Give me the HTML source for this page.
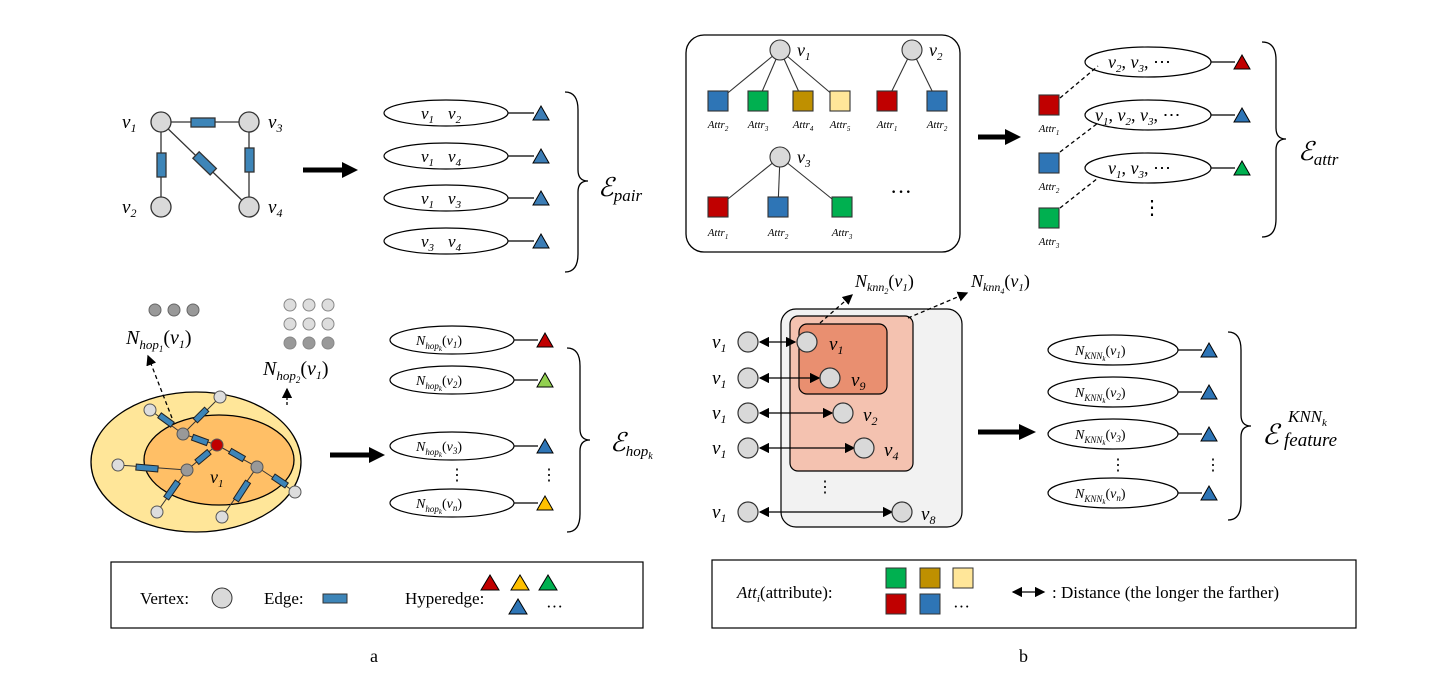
<!DOCTYPE html>
<html><head><meta charset="utf-8"><style>body{margin:0;background:#fff}svg{display:block}
.m{font-family:"Liberation Serif",serif;font-style:italic}
.t{font-family:"Liberation Serif",serif}
</style></head><body>
<svg width="1441" height="683" viewBox="0 0 1441 683" xmlns="http://www.w3.org/2000/svg">
<defs>
<marker id="ah" markerWidth="8" markerHeight="8" refX="7" refY="4" orient="auto"><path d="M0,0 L8,4 L0,8 z" fill="#000"/></marker>
<marker id="ahs" markerWidth="8" markerHeight="8" refX="1" refY="4" orient="auto"><path d="M8,0 L0,4 L8,8 z" fill="#000"/></marker>
</defs>
<g stroke="#333" stroke-width="1.3">
<line x1="161" y1="122" x2="249" y2="122"/><line x1="161" y1="122" x2="161" y2="207"/><line x1="161" y1="122" x2="249" y2="207"/><line x1="249" y1="122" x2="249" y2="207"/>
<rect x="191" y="118" width="24" height="9" fill="#3d85b8"/>
<rect x="157" y="153" width="9" height="24" fill="#3d85b8"/>
<rect x="245" y="148" width="9" height="24" fill="#3d85b8"/>
<rect x="193" y="159" width="24" height="9" fill="#3d85b8" transform="rotate(44 205 163)"/>
<circle cx="161" cy="122" r="10" fill="#d9d9d9"/><circle cx="249" cy="122" r="10" fill="#d9d9d9"/><circle cx="161" cy="207" r="10" fill="#d9d9d9"/><circle cx="249" cy="207" r="10" fill="#d9d9d9"/>
</g>
<g class="m" font-size="19">
<text x="122" y="128">v<tspan font-size="12" dy="4">1</tspan></text>
<text x="268" y="128">v<tspan font-size="12" dy="4">3</tspan></text>
<text x="122" y="213">v<tspan font-size="12" dy="4">2</tspan></text>
<text x="268" y="213">v<tspan font-size="12" dy="4">4</tspan></text>
</g>
<line x1="303" y1="170" x2="345" y2="170" stroke="#000" stroke-width="5"/><path d="M342,162 L358,170 L342,178z"/>
<g stroke="#000" stroke-width="1.2" fill="none">
<ellipse cx="446" cy="113" rx="62" ry="13"/><ellipse cx="446" cy="156" rx="62" ry="13"/><ellipse cx="446" cy="198" rx="62" ry="13"/><ellipse cx="446" cy="241" rx="62" ry="13"/>
<line x1="508" y1="113" x2="534" y2="113"/><line x1="508" y1="156" x2="534" y2="156"/><line x1="508" y1="198" x2="534" y2="198"/><line x1="508" y1="241" x2="534" y2="241"/>
</g>
<g fill="#3c7db5" stroke="#000"><path d="M533,120 L541,106 L549,120z"/><path d="M533,163 L541,149 L549,163z"/><path d="M533,205 L541,191 L549,205z"/><path d="M533,248 L541,234 L549,248z"/></g>
<g class="m" font-size="17">
<text x="421" y="119">v<tspan font-size="11" dy="4">1</tspan><tspan dy="-4" dx="14">v</tspan><tspan font-size="11" dy="4">2</tspan></text>
<text x="421" y="162">v<tspan font-size="11" dy="4">1</tspan><tspan dy="-4" dx="14">v</tspan><tspan font-size="11" dy="4">4</tspan></text>
<text x="421" y="204">v<tspan font-size="11" dy="4">1</tspan><tspan dy="-4" dx="14">v</tspan><tspan font-size="11" dy="4">3</tspan></text>
<text x="421" y="247">v<tspan font-size="11" dy="4">3</tspan><tspan dy="-4" dx="14">v</tspan><tspan font-size="11" dy="4">4</tspan></text>
</g>
<path d="M565,92 Q578,92 578,110 L578,170 Q578,181 588,181 Q578,181 578,192 L578,254 Q578,272 565,272" fill="none" stroke="#000" stroke-width="1.3"/>
<text x="598" y="196" class="m" font-size="26">ℰ<tspan font-size="17" dy="5">pair</tspan></text>

<ellipse cx="196" cy="462" rx="105" ry="70" fill="#ffe699" stroke="#000" stroke-width="1.3"/>
<ellipse cx="219" cy="460" rx="75" ry="45" fill="#ffbf66" stroke="#000" stroke-width="1.3"/>
<g stroke="#333" stroke-width="1">
<line x1="150" y1="410" x2="183" y2="434"/><line x1="220" y1="397" x2="183" y2="434"/><line x1="183" y1="434" x2="217" y2="445"/><line x1="217" y1="445" x2="187" y2="470"/><line x1="217" y1="445" x2="257" y2="467"/>
<line x1="118" y1="465" x2="187" y2="470"/><line x1="187" y1="470" x2="157" y2="512"/><line x1="257" y1="467" x2="222" y2="517"/><line x1="257" y1="467" x2="295" y2="492"/>
</g>
<g fill="#3d85b8" stroke="#222" stroke-width="1">
<rect x="158" y="417" width="16" height="6" transform="rotate(36 166 420)"/>
<rect x="193" y="412" width="16" height="6" transform="rotate(-45 201 415)"/>
<rect x="192" y="437" width="16" height="6" transform="rotate(20 200 440)"/>
<rect x="195" y="454" width="16" height="6" transform="rotate(-40 203 457)"/>
<rect x="229" y="452" width="16" height="6" transform="rotate(30 237 455)"/>
<rect x="136" y="465" width="22" height="6" transform="rotate(5 147 468)"/>
<rect x="162" y="487" width="20" height="6" transform="rotate(-55 172 490)"/>
<rect x="231" y="488" width="22" height="6" transform="rotate(-57 242 491)"/>
<rect x="272" y="478" width="16" height="6" transform="rotate(34 280 481)"/>
</g>
<g stroke="#555" stroke-width="1">
<circle cx="150" cy="410" r="6" fill="#ddd"/><circle cx="220" cy="397" r="6" fill="#ddd"/><circle cx="118" cy="465" r="6" fill="#ddd"/><circle cx="157" cy="512" r="6" fill="#ddd"/><circle cx="222" cy="517" r="6" fill="#ddd"/><circle cx="295" cy="492" r="6" fill="#ddd"/>
<circle cx="183" cy="434" r="6" fill="#999"/><circle cx="187" cy="470" r="6" fill="#999"/><circle cx="257" cy="467" r="6" fill="#999"/>
<circle cx="217" cy="445" r="6" fill="#c00000"/>
</g>
<text x="210" y="483" class="m" font-size="18">v<tspan font-size="11" dy="4">1</tspan></text>
<g fill="#999" stroke="#666"><circle cx="155" cy="310" r="6"/><circle cx="174" cy="310" r="6"/><circle cx="193" cy="310" r="6"/></g>
<g stroke="#888"><g fill="#ddd"><circle cx="290" cy="305" r="6"/><circle cx="309" cy="305" r="6"/><circle cx="328" cy="305" r="6"/><circle cx="290" cy="324" r="6"/><circle cx="309" cy="324" r="6"/><circle cx="328" cy="324" r="6"/></g><g fill="#999"><circle cx="290" cy="343" r="6"/><circle cx="309" cy="343" r="6"/><circle cx="328" cy="343" r="6"/></g></g>
<text x="126" y="344" class="m" font-size="20">N<tspan font-size="13" dy="5">hop</tspan><tspan font-size="9" dy="3">1</tspan><tspan dy="-8" font-style="normal">(</tspan>v<tspan font-size="12" dy="4">1</tspan><tspan dy="-4" font-style="normal">)</tspan></text>
<text x="263" y="375" class="m" font-size="20">N<tspan font-size="13" dy="5">hop</tspan><tspan font-size="9" dy="3">2</tspan><tspan dy="-8" font-style="normal">(</tspan>v<tspan font-size="12" dy="4">1</tspan><tspan dy="-4" font-style="normal">)</tspan></text>
<line x1="172" y1="418" x2="148" y2="356" stroke="#000" stroke-width="1.3" stroke-dasharray="4,3" marker-end="url(#ah)"/>
<line x1="287" y1="405" x2="287" y2="389" stroke="#000" stroke-width="1.3" stroke-dasharray="3,2" marker-end="url(#ah)"/>
<line x1="330" y1="455" x2="372" y2="455" stroke="#000" stroke-width="5"/><path d="M369,447 L385,455 L369,463z"/>
<g stroke="#000" stroke-width="1.2" fill="none">
<ellipse cx="452" cy="340" rx="62" ry="14"/><ellipse cx="452" cy="380" rx="62" ry="14"/><ellipse cx="452" cy="446" rx="62" ry="14"/><ellipse cx="452" cy="503" rx="62" ry="14"/>
<line x1="514" y1="340" x2="538" y2="340"/><line x1="514" y1="380" x2="538" y2="380"/><line x1="514" y1="446" x2="538" y2="446"/><line x1="514" y1="503" x2="538" y2="503"/>
</g>
<g stroke="#000"><path d="M537,347 L545,333 L553,347z" fill="#c00000"/><path d="M537,387 L545,373 L553,387z" fill="#92d050"/><path d="M537,453 L545,439 L553,453z" fill="#2e75b6"/><path d="M537,510 L545,496 L553,510z" fill="#ffc000"/></g>
<g class="m" font-size="14">
<text x="416" y="345">N<tspan font-size="9" dy="4">hop</tspan><tspan font-size="7" dy="2">k</tspan><tspan dy="-6" font-style="normal">(</tspan>v<tspan font-size="9" dy="3">1</tspan><tspan dy="-3" font-style="normal">)</tspan></text>
<text x="416" y="385">N<tspan font-size="9" dy="4">hop</tspan><tspan font-size="7" dy="2">k</tspan><tspan dy="-6" font-style="normal">(</tspan>v<tspan font-size="9" dy="3">2</tspan><tspan dy="-3" font-style="normal">)</tspan></text>
<text x="416" y="451">N<tspan font-size="9" dy="4">hop</tspan><tspan font-size="7" dy="2">k</tspan><tspan dy="-6" font-style="normal">(</tspan>v<tspan font-size="9" dy="3">3</tspan><tspan dy="-3" font-style="normal">)</tspan></text>
<text x="416" y="508">N<tspan font-size="9" dy="4">hop</tspan><tspan font-size="7" dy="2">k</tspan><tspan dy="-6" font-style="normal">(</tspan>v<tspan font-size="9" dy="3">n</tspan><tspan dy="-3" font-style="normal">)</tspan></text>
</g>
<text x="449" y="480" class="t" font-size="16">⋮</text><text x="541" y="480" class="t" font-size="16">⋮</text>
<path d="M567,348 Q580,348 580,366 L580,429 Q580,440 590,440 Q580,440 580,451 L580,514 Q580,532 567,532" fill="none" stroke="#000" stroke-width="1.3"/>
<text x="610" y="451" class="m" font-size="26">ℰ<tspan font-size="15" dy="5">hop</tspan><tspan font-size="10" dy="3">k</tspan></text>

<rect x="111" y="562" width="532" height="66" fill="none" stroke="#000" stroke-width="1.2"/>
<g class="t" font-size="17"><text x="140" y="604">Vertex:</text><text x="264" y="604">Edge:</text><text x="405" y="604">Hyperedge:</text><text x="546" y="612">···</text></g>
<circle cx="222" cy="598" r="10" fill="#d9d9d9" stroke="#333"/>
<rect x="323" y="594" width="24" height="9" fill="#3d85b8" stroke="#333"/>
<g stroke="#000"><path d="M481,590 L490,575 L499,590z" fill="#c00000"/><path d="M511,590 L520,575 L529,590z" fill="#ffc000"/><path d="M539,590 L548,575 L557,590z" fill="#00b050"/><path d="M509,614 L518,599 L527,614z" fill="#2e75b6"/></g>
<text x="370" y="662" class="t" font-size="18">a</text>
<text x="1019" y="662" class="t" font-size="18">b</text>

<rect x="686" y="35" width="274" height="217" rx="18" fill="none" stroke="#000" stroke-width="1.3"/>
<g stroke="#333" stroke-width="1.1">
<line x1="780" y1="50" x2="718" y2="101"/><line x1="780" y1="50" x2="758" y2="101"/><line x1="780" y1="50" x2="803" y2="101"/><line x1="780" y1="50" x2="840" y2="101"/>
<line x1="912" y1="50" x2="887" y2="101"/><line x1="912" y1="50" x2="937" y2="101"/>
<line x1="780" y1="157" x2="718" y2="207"/><line x1="780" y1="157" x2="778" y2="207"/><line x1="780" y1="157" x2="842" y2="207"/>
<circle cx="780" cy="50" r="10" fill="#d9d9d9"/><circle cx="912" cy="50" r="10" fill="#d9d9d9"/><circle cx="780" cy="157" r="10" fill="#d9d9d9"/>
<rect x="708" y="91" width="20" height="20" fill="#2e75b6"/><rect x="748" y="91" width="20" height="20" fill="#00b050"/><rect x="793" y="91" width="20" height="20" fill="#bf9000"/><rect x="830" y="91" width="20" height="20" fill="#ffe699"/>
<rect x="877" y="91" width="20" height="20" fill="#c00000"/><rect x="927" y="91" width="20" height="20" fill="#2e75b6"/>
<rect x="708" y="197" width="20" height="20" fill="#c00000"/><rect x="768" y="197" width="20" height="20" fill="#2e75b6"/><rect x="832" y="197" width="20" height="20" fill="#00b050"/>
</g>
<g class="m" font-size="18"><text x="797" y="56">v<tspan font-size="11" dy="4">1</tspan></text><text x="929" y="56">v<tspan font-size="11" dy="4">2</tspan></text><text x="797" y="163">v<tspan font-size="11" dy="4">3</tspan></text></g>
<g class="m" font-size="11" text-anchor="middle">
<text x="718" y="128">Attr<tspan font-size="7" dy="3">2</tspan></text><text x="758" y="128">Attr<tspan font-size="7" dy="3">3</tspan></text><text x="803" y="128">Attr<tspan font-size="7" dy="3">4</tspan></text><text x="840" y="128">Attr<tspan font-size="7" dy="3">5</tspan></text><text x="887" y="128">Attr<tspan font-size="7" dy="3">1</tspan></text><text x="937" y="128">Attr<tspan font-size="7" dy="3">2</tspan></text>
<text x="718" y="236">Attr<tspan font-size="7" dy="3">1</tspan></text><text x="778" y="236">Attr<tspan font-size="7" dy="3">2</tspan></text><text x="842" y="236">Attr<tspan font-size="7" dy="3">3</tspan></text>
<text x="1049" y="132">Attr<tspan font-size="7" dy="3">1</tspan></text><text x="1049" y="190">Attr<tspan font-size="7" dy="3">2</tspan></text><text x="1049" y="245">Attr<tspan font-size="7" dy="3">3</tspan></text>
</g>
<text x="890" y="199" class="t" font-size="22">···</text>
<line x1="978" y1="137" x2="1008" y2="137" stroke="#000" stroke-width="5"/><path d="M1005,129 L1021,137 L1005,145z"/>
<g stroke="#333" stroke-width="1.1"><rect x="1039" y="95" width="20" height="20" fill="#c00000"/><rect x="1039" y="153" width="20" height="20" fill="#2e75b6"/><rect x="1039" y="208" width="20" height="20" fill="#00b050"/></g>
<g stroke="#000" stroke-width="1.3" stroke-dasharray="4,3"><line x1="1060" y1="98" x2="1098" y2="66"/><line x1="1060" y1="152" x2="1098" y2="123"/><line x1="1060" y1="208" x2="1098" y2="178"/></g>
<g stroke="#000" stroke-width="1.2" fill="none">
<ellipse cx="1148" cy="62" rx="63" ry="15"/><ellipse cx="1148" cy="115" rx="63" ry="15"/><ellipse cx="1148" cy="168" rx="63" ry="15"/>
<line x1="1211" y1="62" x2="1235" y2="62"/><line x1="1211" y1="115" x2="1235" y2="115"/><line x1="1211" y1="168" x2="1235" y2="168"/>
</g>
<g stroke="#000"><path d="M1234,69 L1242,55 L1250,69z" fill="#c00000"/><path d="M1234,122 L1242,108 L1250,122z" fill="#2e75b6"/><path d="M1234,175 L1242,161 L1250,175z" fill="#00b050"/></g>
<g class="m" font-size="18">
<text x="1108" y="68">v<tspan font-size="11" dy="4">2</tspan><tspan dy="-4" font-style="normal">, </tspan>v<tspan font-size="11" dy="4">3</tspan><tspan dy="-4" font-style="normal">, ⋯</tspan></text>
<text x="1095" y="121">v<tspan font-size="11" dy="4">1</tspan><tspan dy="-4" font-style="normal">, </tspan>v<tspan font-size="11" dy="4">2</tspan><tspan dy="-4" font-style="normal">, </tspan>v<tspan font-size="11" dy="4">3</tspan><tspan dy="-4" font-style="normal">, ⋯</tspan></text>
<text x="1108" y="174">v<tspan font-size="11" dy="4">1</tspan><tspan dy="-4" font-style="normal">, </tspan>v<tspan font-size="11" dy="4">3</tspan><tspan dy="-4" font-style="normal">, ⋯</tspan></text>
</g>
<text x="1142" y="214" class="t" font-size="20">⋮</text>
<path d="M1262,42 Q1276,42 1276,60 L1276,128 Q1276,139 1286,139 Q1276,139 1276,150 L1276,219 Q1276,237 1262,237" fill="none" stroke="#000" stroke-width="1.3"/>
<text x="1298" y="160" class="m" font-size="26">ℰ<tspan font-size="17" dy="5">attr</tspan></text>

<rect x="781" y="309" width="181" height="218" rx="15" fill="#f2f2f2" stroke="#000" stroke-width="1.2"/>
<rect x="790" y="316" width="123" height="155" rx="8" fill="#f4c2b0" stroke="#000" stroke-width="1.2"/>
<rect x="799" y="324" width="88" height="70" rx="8" fill="#e98f70" stroke="#000" stroke-width="1.2"/>
<g stroke="#000" stroke-width="1.3" marker-start="url(#ahs)" marker-end="url(#ah)">
<line x1="760" y1="342" x2="795" y2="342"/><line x1="760" y1="378" x2="819" y2="378"/><line x1="760" y1="413" x2="832" y2="413"/><line x1="760" y1="448" x2="854" y2="448"/><line x1="760" y1="512" x2="892" y2="512"/>
</g>
<g fill="#d9d9d9" stroke="#333" stroke-width="1.2">
<circle cx="748" cy="342" r="10"/><circle cx="748" cy="378" r="10"/><circle cx="748" cy="413" r="10"/><circle cx="748" cy="448" r="10"/><circle cx="748" cy="512" r="10"/>
<circle cx="807" cy="342" r="10"/><circle cx="830" cy="378" r="10"/><circle cx="843" cy="413" r="10"/><circle cx="864" cy="448" r="10"/><circle cx="902" cy="512" r="10"/>
</g>
<g class="m" font-size="19">
<text x="712" y="348">v<tspan font-size="12" dy="4">1</tspan></text><text x="712" y="384">v<tspan font-size="12" dy="4">1</tspan></text><text x="712" y="419">v<tspan font-size="12" dy="4">1</tspan></text><text x="712" y="454">v<tspan font-size="12" dy="4">1</tspan></text><text x="712" y="518">v<tspan font-size="12" dy="4">1</tspan></text>
<text x="829" y="350">v<tspan font-size="12" dy="4">1</tspan></text><text x="851" y="386">v<tspan font-size="12" dy="4">9</tspan></text><text x="863" y="421">v<tspan font-size="12" dy="4">2</tspan></text><text x="884" y="456">v<tspan font-size="12" dy="4">4</tspan></text><text x="921" y="520">v<tspan font-size="12" dy="4">8</tspan></text>
</g>
<text x="817" y="492" class="t" font-size="16">⋮</text>
<g stroke="#000" stroke-width="1.3" stroke-dasharray="4,3" marker-end="url(#ah)"><line x1="820" y1="323" x2="852" y2="295"/><line x1="908" y1="318" x2="967" y2="293"/></g>
<g class="m" font-size="18">
<text x="855" y="287">N<tspan font-size="12" dy="4">knn</tspan><tspan font-size="8" dy="3">2</tspan><tspan dy="-7" font-style="normal">(</tspan>v<tspan font-size="11" dy="4">1</tspan><tspan dy="-4" font-style="normal">)</tspan></text>
<text x="971" y="287">N<tspan font-size="12" dy="4">knn</tspan><tspan font-size="8" dy="3">4</tspan><tspan dy="-7" font-style="normal">(</tspan>v<tspan font-size="11" dy="4">1</tspan><tspan dy="-4" font-style="normal">)</tspan></text>
</g>
<line x1="978" y1="432" x2="1022" y2="432" stroke="#000" stroke-width="5"/><path d="M1019,424 L1036,432 L1019,440z"/>
<g stroke="#000" stroke-width="1.2" fill="none">
<ellipse cx="1113" cy="350" rx="65" ry="15"/><ellipse cx="1113" cy="392" rx="65" ry="15"/><ellipse cx="1113" cy="434" rx="65" ry="15"/><ellipse cx="1113" cy="493" rx="65" ry="15"/>
<line x1="1178" y1="350" x2="1202" y2="350"/><line x1="1178" y1="392" x2="1202" y2="392"/><line x1="1178" y1="434" x2="1202" y2="434"/><line x1="1178" y1="493" x2="1202" y2="493"/>
</g>
<g stroke="#000" fill="#2e75b6"><path d="M1201,357 L1209,343 L1217,357z"/><path d="M1201,399 L1209,385 L1217,399z"/><path d="M1201,441 L1209,427 L1217,441z"/><path d="M1201,500 L1209,486 L1217,500z"/></g>
<g class="m" font-size="14">
<text x="1075" y="355">N<tspan font-size="9" dy="4">KNN</tspan><tspan font-size="7" dy="2">k</tspan><tspan dy="-6" font-style="normal">(</tspan>v<tspan font-size="9" dy="3">1</tspan><tspan dy="-3" font-style="normal">)</tspan></text>
<text x="1075" y="397">N<tspan font-size="9" dy="4">KNN</tspan><tspan font-size="7" dy="2">k</tspan><tspan dy="-6" font-style="normal">(</tspan>v<tspan font-size="9" dy="3">2</tspan><tspan dy="-3" font-style="normal">)</tspan></text>
<text x="1075" y="439">N<tspan font-size="9" dy="4">KNN</tspan><tspan font-size="7" dy="2">k</tspan><tspan dy="-6" font-style="normal">(</tspan>v<tspan font-size="9" dy="3">3</tspan><tspan dy="-3" font-style="normal">)</tspan></text>
<text x="1075" y="498">N<tspan font-size="9" dy="4">KNN</tspan><tspan font-size="7" dy="2">k</tspan><tspan dy="-6" font-style="normal">(</tspan>v<tspan font-size="9" dy="3">n</tspan><tspan dy="-3" font-style="normal">)</tspan></text>
</g>
<text x="1110" y="470" class="t" font-size="16">⋮</text><text x="1205" y="470" class="t" font-size="16">⋮</text>
<path d="M1228,332 Q1241,332 1241,350 L1241,415 Q1241,426 1251,426 Q1241,426 1241,437 L1241,502 Q1241,520 1228,520" fill="none" stroke="#000" stroke-width="1.3"/>
<text x="1262" y="444" class="m" font-size="28">ℰ</text>
<text x="1288" y="422" class="m" font-size="17">KNN<tspan font-size="11" dy="4">k</tspan></text>
<text x="1284" y="446" class="m" font-size="19">feature</text>

<rect x="712" y="560" width="644" height="68" fill="none" stroke="#000" stroke-width="1.2"/>
<text x="737" y="598" class="m" font-size="17">Att<tspan font-size="11" dy="4">i</tspan><tspan dy="-4" font-style="normal">(attribute):</tspan></text>
<g stroke="#333"><rect x="886" y="568" width="20" height="20" fill="#00b050"/><rect x="920" y="568" width="20" height="20" fill="#bf9000"/><rect x="953" y="568" width="20" height="20" fill="#ffe699"/><rect x="886" y="594" width="20" height="20" fill="#c00000"/><rect x="920" y="594" width="20" height="20" fill="#2e75b6"/></g>
<text x="953" y="612" class="t" font-size="17">···</text>
<line x1="1013" y1="592" x2="1044" y2="592" stroke="#000" stroke-width="1.3" marker-start="url(#ahs)" marker-end="url(#ah)"/>
<text x="1052" y="598" class="t" font-size="17">: Distance (the longer the farther)</text>
</svg>
</body></html>
